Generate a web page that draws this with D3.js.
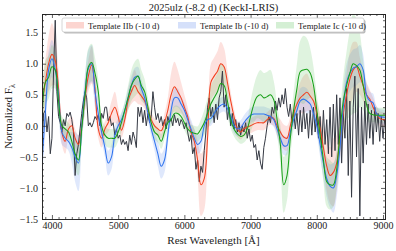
<!DOCTYPE html>
<html><head><meta charset="utf-8">
<script src="https://cdn.jsdelivr.net/npm/d3@7"></script>
<style>body{margin:0;background:#fff}svg{display:block}text{font-family:"Liberation Serif","DejaVu Serif",serif;fill:#222}</style>
</head><body><svg id="c" width="396" height="251"></svg>
<script>
// ---------- data ----------
const titleText = "2025ulz (-8.2 d) (KeckI-LRIS)";
const xLabel = "Rest Wavelength [Å]";
const xTicks = [4000, 5000, 6000, 7000, 8000, 9000];
const yTicks = [-1.5, -1.0, -0.5, 0.0, 0.5, 1.0, 1.5];
const legendLabels = ["Template IIb (-10 d)", "Template Ib (-10 d)", "Template Ic (-10 d)"];

// template wavelength grid (Å), 50 Å spacing
const waveT = d3.range(3850, 9051, 50);
const fluxIIb = [0.35,0.7,1.0,1.15,1.05,0.6, -0.1,-0.25,-0.05,0.0,-0.2,-0.3,0.0, 0.45,0.8,0.98,0.6,-0.05,
  -0.2,-0.05,0.05,0.2,0.3,0.15,-0.07, 0.1,0.4,0.55,0.65,0.55,0.48,0.4,0.25, 0.1,0.0,-0.05,-0.08,0.05,0.25,
  0.5,0.63,0.55,0.45,0.3,0.15,-0.1,-0.25, -0.55,-0.95,-0.85,-0.2,0.7,0.8, 0.88,1.0,0.95,0.7,0.4,0.15,
  -0.05,-0.1,-0.05,-0.02,0.0,0.03, 0.05,0.05,0.05,0.1,0.14,0.12, 0.0,-0.1,-0.18,-0.2,0.0,0.2,
  0.35,0.45,0.5,0.54,0.48,0.4, 0.2,-0.05,-0.35,-0.65,-0.8,-0.75, -0.6,-0.2,0.2,0.5,0.75,0.9,
  0.95,0.8,0.65,0.5,0.43,0.3, 0.2,0.12,0.1,0.1];
const errIIb = [0.3,0.35,0.45,0.5,0.4,0.3, 0.2,0.2,0.15,0.15,0.15,0.15,0.15, 0.2,0.25,0.3,0.25,0.15,
  0.15,0.12,0.15,0.2,0.25,0.15,0.12, 0.12,0.15,0.2,0.25,0.2,0.15,0.12,0.12, 0.12,0.12,0.12,0.12,0.15,0.2,
  0.35,0.4,0.35,0.25,0.2,0.15,0.15,0.2, 0.3,0.5,0.5,0.3,0.3,0.3, 0.32,0.35,0.3,0.2,0.15,0.12,
  0.12,0.12,0.12,0.12,0.12,0.12, 0.12,0.12,0.12,0.12,0.12,0.12, 0.15,0.2,0.2,0.2,0.15,0.15,
  0.2,0.25,0.3,0.3,0.25,0.2, 0.2,0.25,0.3,0.4,0.45,0.55, 0.45,0.3,0.3,0.35,0.45,0.45,
  0.4,0.3,0.25,0.2,0.15,0.15, 0.12,0.12,0.12,0.12];
const fluxIb = [-0.6,0.2,0.9,1.08,0.9,0.5, -0.1,-0.2,-0.25,-0.35,-0.5,-0.6,0.0, 0.55,0.92,1.0,0.55,0.2,
  -0.1,-0.35,-0.6,-0.5,-0.15,0.0,0.1, 0.25,0.45,0.65,0.78,0.8,0.6,0.45,0.2, -0.05,-0.25,-0.45,-0.65,-0.55,-0.15,
  0.25,0.45,0.45,0.35,0.25,0.1,-0.05,-0.2, -0.3,-0.25,0.0,0.1,0.12,0.2, 0.28,0.33,0.35,0.28,0.15,0.0,
  -0.05,-0.03,0.05,0.12,0.17,0.19, 0.19,0.19,0.19,0.17,0.15,0.1, -0.05,-0.2,-0.32,-0.32,-0.1,0.1,
  0.25,0.4,0.43,0.4,0.35,0.2, 0.0,-0.3,-0.6,-0.85,-0.97,-1.0, -0.8,-0.35,0.3,0.7,0.85,0.93,
  0.95,1.0,0.9,0.5,0.4,0.37, 0.2,0.15,0.14,0.14];
const errIb = [0.3,0.3,0.3,0.3,0.3,0.25, 0.2,0.15,0.15,0.25,0.4,0.45,0.3, 0.3,0.3,0.3,0.25,0.2,
  0.15,0.15,0.2,0.2,0.15,0.12,0.12, 0.12,0.15,0.15,0.15,0.15,0.15,0.12,0.12, 0.12,0.15,0.2,0.2,0.2,0.15,
  0.15,0.15,0.15,0.12,0.12,0.12,0.15,0.15, 0.15,0.15,0.12,0.12,0.12,0.12, 0.12,0.12,0.12,0.12,0.12,0.12,
  0.12,0.12,0.12,0.12,0.12,0.12, 0.12,0.12,0.12,0.12,0.12,0.12, 0.12,0.15,0.15,0.15,0.12,0.12,
  0.15,0.2,0.2,0.2,0.15,0.15, 0.15,0.2,0.25,0.3,0.35,0.4, 0.35,0.3,0.3,0.3,0.3,0.3,
  0.3,0.3,0.25,0.2,0.15,0.15, 0.12,0.12,0.12,0.12];
const fluxIc = [0.0,0.7,0.78,0.95,0.9,0.4, 0.0,-0.05,-0.1,-0.25,-0.45,-0.55,-0.05, 0.5,0.95,1.02,0.85,0.55,
  0.0,-0.15,-0.2,-0.2,-0.2,-0.1,0.05, 0.25,0.45,0.65,0.75,0.8,0.65,0.55,0.3, 0.05,-0.1,-0.15,-0.25,-0.1,0.05,
  0.1,0.2,0.2,0.15,0.05,-0.05,-0.1,-0.12, -0.13,-0.05,0.05,0.2,0.35,0.45, 0.55,0.68,0.65,0.4,0.1,-0.05,
  -0.13,-0.17,-0.15,-0.05,0.15,0.35, 0.47,0.5,0.45,0.47,0.5,0.42, 0.1,-0.3,-0.95,-0.8,-0.2,0.25,
  0.6,0.87,0.9,0.91,0.85,0.65, 0.25,-0.15,-0.55,-0.9,-0.95,-0.95, -0.7,-0.1,0.4,0.65,0.85,1.0,
  0.97,0.9,0.65,0.35,0.2,0.18, 0.17,0.17,0.17,0.17];
const errIc = [0.35,0.35,0.35,0.35,0.3,0.25, 0.15,0.15,0.15,0.2,0.25,0.25,0.2, 0.25,0.3,0.3,0.25,0.2,
  0.15,0.15,0.15,0.15,0.15,0.15,0.15, 0.15,0.2,0.25,0.28,0.28,0.25,0.2,0.15, 0.12,0.12,0.12,0.12,0.12,0.12,
  0.12,0.12,0.12,0.12,0.12,0.12,0.12,0.12, 0.12,0.15,0.2,0.25,0.3,0.3, 0.3,0.32,0.3,0.25,0.15,0.12,
  0.12,0.12,0.12,0.15,0.25,0.3, 0.35,0.4,0.4,0.4,0.4,0.3, 0.25,0.3,0.45,0.4,0.3,0.3,
  0.4,0.5,0.55,0.5,0.4,0.3, 0.25,0.3,0.35,0.4,0.4,0.35, 0.3,0.3,0.4,0.55,0.7,0.8,
  0.75,0.6,0.4,0.25,0.15,0.12, 0.12,0.12,0.12,0.12];

// observed spectrum, 25 Å spacing
const waveObs = d3.range(3850, 9026, 25);
const fluxObs = [-0.3,0.2,0.25,-0.1,0.15,-0.45,
  -0.2,0.9,1.7,0.55,0.15,0.05,-0.1,0.1,0.0,0.2,0.15,0.22,0.1,-0.1,-0.8,-0.45,-0.3,-0.05,0.2,0.4,
  0.55,0.45,0.0,0.05,-0.02,0.05,0.15,0.1,0.18,0.0,0.2,0.12,0.3,0.3,0.08,0.15,0.0,0.05,-0.15,-0.05,
  -0.2,-0.15,-0.3,-0.22,-0.3,-0.25,-0.4,-0.15,-0.3,-0.1,-0.2,-0.35,0.3,0.15,0.3,0.05,0.25,0.0,0.2,0.05,
  0.15,0.55,0.3,0.1,0.2,0.05,0.15,0.0,0.1,-0.05,0.15,0.05,0.12,0.0,0.18,0.05,0.12,0.0,0.1,0.05,
  -0.05,0.05,-0.1,-0.25,-0.15,-0.45,-0.35,-0.7,-0.55,-0.9,-0.65,-0.75,-0.4,-0.1,0.3,0.45,0.15,0.3,0.05,0.35,
  0.1,0.45,0.55,0.88,0.3,0.5,0.1,0.3,0.0,0.2,-0.05,0.1,-0.1,0.05,-0.15,0.0,-0.1,0.05,-0.2,-0.05,
  -0.25,-0.15,-0.35,-0.3,-0.55,-0.4,-0.6,-0.7,-0.35,-0.2,0.0,0.15,0.05,0.3,0.2,0.4,0.25,0.45,0.3,0.5,
  0.35,0.6,0.3,0.15,0.35,0.05,0.25,-0.05,0.2,-0.15,0.25,-0.1,0.3,-0.05,0.2,-0.2,0.25,-0.15,0.3,-0.1,
  0.2,-0.2,0.15,-0.35,0.25,-0.3,0.1,-0.45,0.3,-0.5,0.35,-0.4,0.5,-0.3,0.45,-0.6,0.2,-0.2,0.6,-0.8,
  0.4,-1.15,0.3,0.8,-0.5,0.6,-1.45,0.3,-0.6,0.4,-0.3,0.35,-0.2,0.25,-0.3,0.3,-0.1,0.2,-0.25,0.15,
  -0.2,0.1];

// ---------- chart ----------
const svg = d3.select("#c");
const M = {l:42, r:385, t:14, b:219};
const x = d3.scaleLinear().domain([3850, 9030]).range([M.l, M.r]);
const y = d3.scaleLinear().domain([-1.5, 1.8]).range([M.b, M.t]);

svg.append("defs").append("clipPath").attr("id","clip")
  .append("rect").attr("x",M.l).attr("y",M.t).attr("width",M.r-M.l).attr("height",M.b-M.t);
const g = svg.append("g").attr("clip-path","url(#clip)");

const series = [
  {flux: fluxIIb, err: errIIb, line:"#f2401f", band:"rgba(248,120,105,0.22)", patch:"#fcd5d0"},
  {flux: fluxIb,  err: errIb,  line:"#2f74ef", band:"rgba(110,150,240,0.22)", patch:"#d5e0fa"},
  {flux: fluxIc,  err: errIc,  line:"#18a018", band:"rgba(110,200,110,0.22)", patch:"#d4efd4"}
];
const curve = d3.curveCatmullRom.alpha(0.5);
series.forEach(s => {
  const area = d3.area().x((d,i)=>x(waveT[i])).y0((d,i)=>y(s.flux[i]-s.err[i])).y1((d,i)=>y(s.flux[i]+s.err[i])).curve(curve);
  g.append("path").datum(s.flux).attr("d",area).attr("fill",s.band).attr("stroke","none");
});
const obsLine = d3.line().x((d,i)=>x(waveObs[i])).y(d=>y(d));
g.append("path").datum(fluxObs).attr("d",obsLine).attr("fill","none").attr("stroke","#363a44").attr("stroke-width",1).attr("stroke-linejoin","round");
series.forEach(s => {
  const line = d3.line().x((d,i)=>x(waveT[i])).y(d=>y(d)).curve(curve);
  g.append("path").datum(s.flux).attr("d",line).attr("fill","none").attr("stroke",s.line).attr("stroke-width",1.05);
});

// axes
const minorX = d3.range(3900, 9031, 100).filter(v => v % 1000 !== 0);
const minorY = d3.range(-15, 18, 1).map(v => v/10).filter(v => Math.abs(Math.round(v*10) % 5) !== 0);
function styleAxis(sel){ sel.selectAll("path").attr("stroke","#222").attr("stroke-width",0.8);
  sel.selectAll("line").attr("stroke","#222").attr("stroke-width",0.7);
  sel.selectAll("text").style("font-family",'"Liberation Serif",serif').style("font-size","10px").attr("fill","#333"); }
const fmtY = d3.format(".1f");
svg.append("g").attr("transform",`translate(0,${M.b})`).call(d3.axisBottom(x).tickValues(xTicks).tickSize(-4).tickPadding(3).tickFormat(d3.format("d"))).call(styleAxis);
svg.append("g").attr("transform",`translate(0,${M.b})`).call(d3.axisBottom(x).tickValues(minorX).tickSize(-2).tickFormat("")).call(styleAxis);
svg.append("g").attr("transform",`translate(0,${M.t})`).call(d3.axisTop(x).tickValues(xTicks).tickSize(-4).tickFormat("")).call(styleAxis);
svg.append("g").attr("transform",`translate(0,${M.t})`).call(d3.axisTop(x).tickValues(minorX).tickSize(-2).tickFormat("")).call(styleAxis);
svg.append("g").attr("transform",`translate(${M.l},0)`).call(d3.axisLeft(y).tickValues(yTicks).tickSize(-4).tickPadding(4).tickFormat(fmtY)).call(styleAxis);
svg.append("g").attr("transform",`translate(${M.l},0)`).call(d3.axisLeft(y).tickValues(minorY).tickSize(-2).tickFormat("")).call(styleAxis);
svg.append("g").attr("transform",`translate(${M.r},0)`).call(d3.axisRight(y).tickValues(yTicks).tickSize(-4).tickFormat("")).call(styleAxis);
svg.append("g").attr("transform",`translate(${M.r},0)`).call(d3.axisRight(y).tickValues(minorY).tickSize(-2).tickFormat("")).call(styleAxis);

// titles
svg.append("text").attr("x",(M.l+M.r)/2).attr("y",11).attr("text-anchor","middle").style("font-size","10.5px").attr("fill","#333").text(titleText);
svg.append("text").attr("x",(M.l+M.r)/2).attr("y",244).attr("text-anchor","middle").style("font-size","11px").attr("fill","#333").text(xLabel);
const yl = svg.append("text").attr("transform",`translate(12,${(M.t+M.b)/2}) rotate(-90)`).attr("text-anchor","middle").style("font-size","11px").attr("fill","#333");
yl.append("tspan").text("Normalized F");
yl.append("tspan").attr("dy","2.5").style("font-size","8px").text("λ");

// legend
const lg = svg.append("g");
lg.append("rect").attr("x",63.5).attr("y",19.5).attr("width",302).attr("height",14).attr("rx",2).attr("fill","#bbb");
lg.append("rect").attr("x",62).attr("y",18).attr("width",302).attr("height",14).attr("rx",2).attr("fill","#fff").attr("stroke","#ccc").attr("stroke-width",0.8);
const lx = [66, 178, 276];
series.forEach((s,i) => {
  lg.append("rect").attr("x",lx[i]).attr("y",22).attr("width",18).attr("height",6.5).attr("fill",s.patch);
  lg.append("text").attr("x",lx[i]+22).attr("y",28.5).style("font-size","8.8px").attr("fill","#333").text(legendLabels[i]);
});
</script></body></html>
